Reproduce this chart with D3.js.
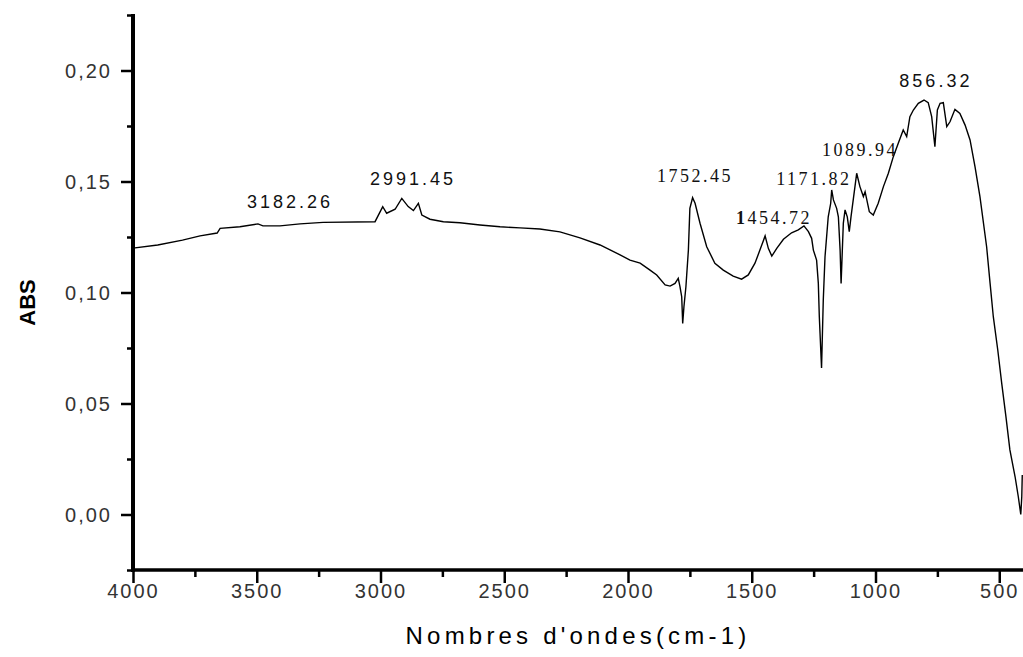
<!DOCTYPE html>
<html>
<head>
<meta charset="utf-8">
<script src="https://cdn.jsdelivr.net/npm/d3@7"></script>
<style>
  body { margin: 0; background: #fff; }
  svg { display: block; }
  .tick-label { font-family: "Liberation Sans", Arial, sans-serif; font-size: 20px; fill: #333; letter-spacing: 2px; }
  .axis-title { font-family: "Liberation Sans", Arial, sans-serif; fill: #000; }
  .peak { font-size: 18px; fill: #111; }
</style>
</head>
<body>
<svg id="chart"></svg>
<script>
// spectrum: [wavenumber cm-1, absorbance]
const spectrum = [
  [4000, 0.1200], [3900, 0.1214], [3800, 0.1236], [3729, 0.1255], [3660, 0.1268],
  [3648, 0.1289], [3568, 0.1296], [3495, 0.1309], [3475, 0.1300], [3406, 0.1300],
  [3325, 0.1309], [3232, 0.1316], [3022, 0.1319], [2991, 0.1387], [2975, 0.1357],
  [2941, 0.1375], [2914, 0.1424], [2888, 0.1387], [2867, 0.1369], [2847, 0.1402],
  [2833, 0.1349], [2800, 0.1330], [2746, 0.1319], [2679, 0.1314], [2598, 0.1304],
  [2517, 0.1296], [2436, 0.1291], [2356, 0.1286], [2275, 0.1273], [2194, 0.1246],
  [2113, 0.1214], [2032, 0.1169], [1992, 0.1146], [1951, 0.1132], [1911, 0.1101],
  [1884, 0.1079], [1850, 0.1034], [1830, 0.1029], [1810, 0.1041], [1797, 0.1064],
  [1790, 0.1026], [1783, 0.0981], [1779, 0.0861], [1774, 0.0936], [1766, 0.1026],
  [1756, 0.1191], [1750, 0.1379], [1739, 0.1427], [1729, 0.1402], [1709, 0.1312],
  [1682, 0.1206], [1649, 0.1132], [1615, 0.1101], [1575, 0.1074], [1541, 0.1060],
  [1514, 0.1079], [1487, 0.1132], [1467, 0.1191], [1446, 0.1255], [1433, 0.1199],
  [1419, 0.1164], [1399, 0.1199], [1372, 0.1240], [1339, 0.1269], [1312, 0.1282],
  [1289, 0.1300], [1271, 0.1274], [1258, 0.1244], [1251, 0.1191], [1238, 0.1146],
  [1231, 0.1041], [1227, 0.0891], [1218, 0.0660], [1211, 0.0966], [1204, 0.1161],
  [1191, 0.1341], [1181, 0.1402], [1177, 0.1462], [1170, 0.1417], [1157, 0.1379],
  [1150, 0.1341], [1143, 0.1191], [1139, 0.1041], [1130, 0.1312], [1123, 0.1372],
  [1114, 0.1341], [1106, 0.1274], [1099, 0.1341], [1090, 0.1417], [1076, 0.1537],
  [1063, 0.1477], [1049, 0.1432], [1042, 0.1454], [1025, 0.1364], [1009, 0.1349],
  [989, 0.1402], [968, 0.1477], [948, 0.1537], [928, 0.1612], [908, 0.1672],
  [888, 0.1732], [874, 0.1702], [861, 0.1792], [847, 0.1822], [827, 0.1852],
  [804, 0.1867], [787, 0.1855], [773, 0.1792], [760, 0.1657], [750, 0.1822],
  [739, 0.1852], [726, 0.1855], [712, 0.1747], [699, 0.1769], [679, 0.1825],
  [659, 0.1807], [638, 0.1754], [618, 0.1687], [598, 0.1567], [578, 0.1432],
  [551, 0.1206], [537, 0.1041], [524, 0.0891], [506, 0.0741], [490, 0.0591],
  [473, 0.0441], [457, 0.0291], [436, 0.0170], [423, 0.0080], [413, 0.0000],
  [409, 0.0080], [407, 0.0178]
];

// peak annotations: text and where the label sits, in data units
const peakText = ["3182.26", "2991.45", "1752.45", "1454.72", "1171.82", "1089.94", "856.32"];
const peakWn   = [3366, 2869, 1729, 1410, 1249, 1063, 756];
const peakAbs  = [0.1381, 0.1484, 0.1499, 0.1309, 0.1484, 0.1615, 0.1927];
const peakSerif = [false, false, true, true, true, true, false];

const xMajor = [4000, 3500, 3000, 2500, 2000, 1500, 1000, 500];
const xMinor = [3750, 3250, 2750, 2250, 1750, 1250, 750];
const yMajor = [0.00, 0.05, 0.10, 0.15, 0.20];
const yMinor = [-0.025, 0.025, 0.075, 0.125, 0.175, 0.225];

const W = 1023, H = 657;
const margin = {left: 133, right: 1024, top: 15, bottom: 570};

const svg = d3.select('#chart').attr('width', W).attr('height', H);

const x = d3.scaleLinear().domain([4000, 400]).range([margin.left, margin.right]);
const y = d3.scaleLinear().domain([-0.025, 0.225]).range([margin.bottom, margin.top]);

const fr = d3.formatLocale({decimal: ",", thousands: " ", grouping: [3], currency: ["", "€"]});
const yFmt = fr.format(".2f");

// y axis
const yAxisMajor = d3.axisLeft(y).tickValues(yMajor).tickSize(12).tickPadding(9).tickFormat(yFmt);
const yAxisMinor = d3.axisLeft(y).tickValues(yMinor).tickSize(6).tickFormat('');

svg.append('g').attr('transform', `translate(${margin.left},0)`).call(yAxisMinor)
    .call(g => g.select('.domain').remove())
    .call(g => g.selectAll('line').attr('stroke', '#000').attr('stroke-width', 2.5));
svg.append('g').attr('transform', `translate(${margin.left},0)`).call(yAxisMajor)
    .call(g => g.select('.domain').remove())
    .call(g => g.selectAll('line').attr('stroke', '#000').attr('stroke-width', 2.5))
    .call(g => g.selectAll('text').attr('class', 'tick-label').attr('font-size', null).attr('font-family', null).attr('dy', '0.36em'));

// x axis
const xAxisMajor = d3.axisBottom(x).tickValues(xMajor).tickSize(13).tickPadding(1).tickFormat(d3.format('d'));
const xAxisMinor = d3.axisBottom(x).tickValues(xMinor).tickSize(7).tickFormat('');

svg.append('g').attr('transform', `translate(0,${margin.bottom})`).call(xAxisMinor)
    .call(g => g.select('.domain').remove())
    .call(g => g.selectAll('line').attr('stroke', '#000').attr('stroke-width', 2.5));
svg.append('g').attr('transform', `translate(0,${margin.bottom})`).call(xAxisMajor)
    .call(g => g.select('.domain').remove())
    .call(g => g.selectAll('line').attr('stroke', '#000').attr('stroke-width', 2.5))
    .call(g => g.selectAll('text').attr('class', 'tick-label').attr('font-size', null).attr('font-family', null).attr('dy', '0.71em'));

// axis lines
svg.append('line')
    .attr('x1', margin.left).attr('x2', margin.left).attr('y1', margin.top - 1).attr('y2', margin.bottom + 2)
    .attr('stroke', '#000').attr('stroke-width', 4);
svg.append('line')
    .attr('x1', margin.left - 2).attr('x2', W).attr('y1', margin.bottom).attr('y2', margin.bottom)
    .attr('stroke', '#000').attr('stroke-width', 3.5);

// spectrum line
const line = d3.line().x(d => x(d[0])).y(d => y(d[1]));
svg.append('path')
    .datum(spectrum)
    .attr('fill', 'none')
    .attr('stroke', '#000')
    .attr('stroke-width', 1.4)
    .attr('stroke-linejoin', 'miter')
    .attr('d', line);

// peak labels
peakText.forEach((t, i) => {
  const txt = svg.append('text')
      .attr('class', 'peak')
      .attr('x', x(peakWn[i]))
      .attr('y', y(peakAbs[i]))
      .attr('text-anchor', 'middle')
      .style('font-family', peakSerif[i] ? '"Liberation Serif", "Times New Roman", serif' : '"Liberation Sans", Arial, sans-serif')
      .style('letter-spacing', peakSerif[i] ? '2.5px' : '3px');
  if (t === "1454.72") {
    txt.append('tspan').attr('font-weight', 'bold').text(t.slice(0, 1));
    txt.append('tspan').text(t.slice(1));
  } else {
    txt.text(t);
  }
});

// axis titles
svg.append('text')
    .attr('class', 'axis-title')
    .attr('transform', `translate(35,${(margin.top + margin.bottom) / 2 + 10}) rotate(-90)`)
    .attr('text-anchor', 'middle')
    .style('font-size', '22px')
    .style('font-weight', 'bold')
    .text('ABS');

svg.append('text')
    .attr('class', 'axis-title')
    .attr('x', 578)
    .attr('y', 644)
    .attr('text-anchor', 'middle')
    .style('font-size', '24px')
    .style('letter-spacing', '4.2px')
    .text("Nombres d'ondes(cm-1)");
</script>
</body>
</html>
